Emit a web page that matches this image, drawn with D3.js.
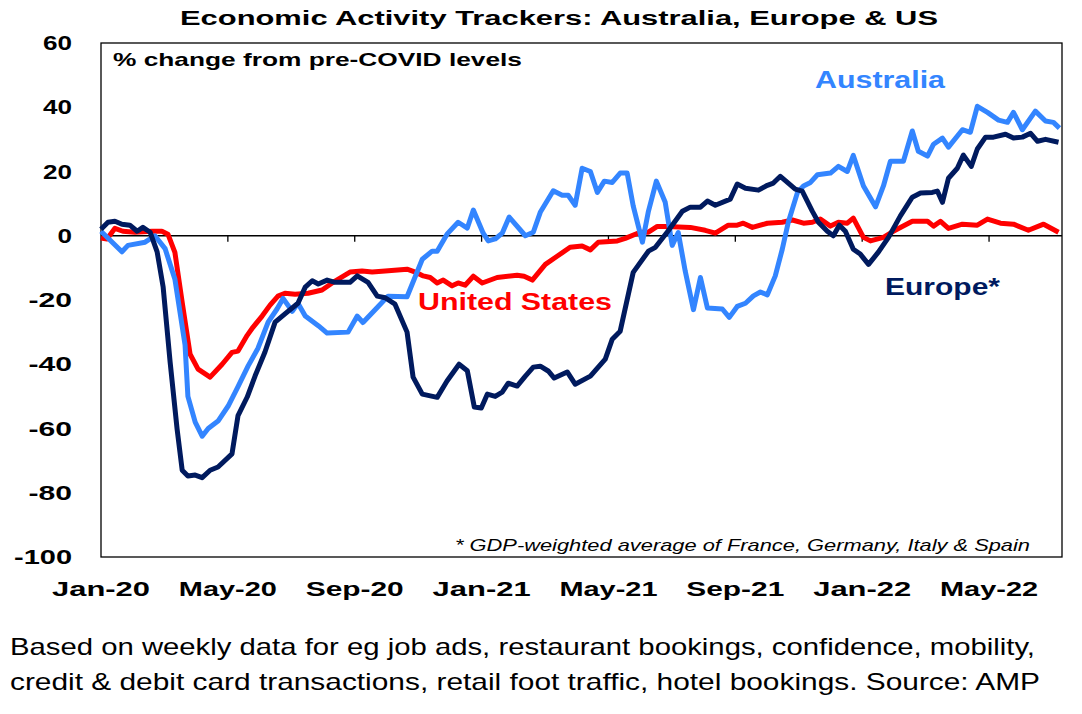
<!DOCTYPE html>
<html><head><meta charset="utf-8">
<script src="https://cdn.jsdelivr.net/npm/d3@7"></script>
<style>body{margin:0;background:#fff;font-family:Arial,"Liberation Sans",sans-serif}</style>
</head><body><svg id="c" width="1082" height="714"></svg>
<script>
// x in months since Jan 2020
const ausT=[0,0.66,0.85,1.39,1.70,2.02,2.33,2.65,2.74,2.97,3.19,3.38,3.69,4.01,4.32,4.64,4.95,5.27,5.55,5.74,6.03,6.21,6.44,6.85,7.13,7.79,8.08,8.26,8.74,9.05,9.65,10.13,10.44,10.60,10.91,11.26,11.55,11.74,12.05,12.21,12.43,12.65,12.87,13.38,13.63,13.85,14.26,14.54,14.73,14.95,15.17,15.43,15.65,15.87,16.12,16.37,16.59,16.78,17.07,17.26,17.51,17.79,18.01,18.20,18.42,18.68,18.90,19.12,19.59,19.81,20.06,20.32,20.57,20.79,21.01,21.26,21.48,21.67,21.96,22.15,22.37,22.59,23.00,23.25,23.53,23.72,24.04,24.42,24.67,24.89,25.30,25.58,25.77,26.06,26.25,26.53,26.72,27.16,27.41,27.63,27.95,28.30,28.58,28.77,29.05,29.46,29.78,30.03,30.22];
const ausV=[1.4,-5,-3,-2,0,-4,-13.5,-34,-50,-58,-62.4,-60,-57.7,-53,-47,-40.5,-35,-26.9,-22.8,-19.5,-23.5,-21,-25,-28,-30.3,-30,-25,-27,-22,-18.8,-19,-7.3,-4.8,-4.8,0.5,4.2,2.4,8,0.8,-1.6,-1,0.8,5.8,0,1.1,7.3,14,12.6,12.6,9.5,21,20,13.5,17,16.6,19.5,19.5,9.3,-2,7.6,17,10.4,-3,1,-11,-23,-13,-22.5,-22.8,-25.4,-22,-21,-18.7,-17.5,-18.4,-12.5,-4.2,4.2,13.5,15.5,16.6,19,19.5,21.6,20,25,15.5,9,15.5,23.2,23.2,32.6,26.3,24.8,28.5,30.4,27.6,33,32.2,40.3,38.4,36,35.3,38.4,33,38.8,35.7,35.3,33.5];
const eurT=[0,0.22,0.44,0.66,0.91,1.14,1.32,1.55,1.77,1.96,2.18,2.40,2.56,2.74,2.97,3.19,3.44,3.69,4.13,4.32,4.61,4.86,5.17,5.49,5.80,6.21,6.44,6.66,6.85,7.13,7.38,7.85,8.08,8.42,8.71,8.96,9.27,9.65,9.84,10.13,10.60,10.91,11.29,11.55,11.77,11.99,12.18,12.43,12.65,12.84,13.12,13.38,13.63,13.85,14.10,14.29,14.70,14.95,15.43,15.90,16.12,16.37,16.78,17.26,17.48,17.85,18.33,18.58,18.90,19.12,19.37,19.84,20.06,20.32,20.73,21.01,21.20,21.42,21.67,21.89,22.11,22.43,22.62,22.90,23.09,23.28,23.47,23.72,23.94,24.20,24.51,24.83,25.20,25.58,25.84,26.21,26.37,26.53,26.72,27.00,27.19,27.44,27.63,27.89,28.14,28.52,28.77,29.05,29.31,29.53,29.78,30.19];
const eurV=[2,4.2,4.5,3.6,3.3,1.4,2.6,1.1,-5,-16,-39.4,-60.2,-73,-74.8,-74.5,-75.3,-73,-72,-67.9,-56,-50.2,-43.6,-36.2,-26.9,-24.3,-21,-16,-14,-15,-13.8,-14.5,-14.5,-12.5,-14.5,-18.8,-19.3,-21.3,-30,-44,-49.3,-50.3,-45.2,-40,-42,-53.3,-53.6,-49.3,-50,-48.7,-45.9,-46.8,-43.7,-40.9,-40.6,-42.1,-44.3,-42.4,-46.2,-43.7,-38.4,-32.2,-29.7,-11.4,-4.8,-3.6,1.1,7.6,8.9,8.9,10.8,9.5,11.4,16.1,14.8,14.2,15.7,16.4,18.5,16.4,14.5,13.9,7.6,4.2,1.4,0,3.3,1.4,-4.2,-5.7,-8.9,-5.1,-0.5,6.1,12,13.3,13.5,13.9,10.4,17.9,21,25.1,21.6,27,30.7,30.7,31.6,30.4,30.7,31.9,29.4,30,29.1];
const usT=[0,0.19,0.44,0.69,1.07,1.61,1.92,2.11,2.33,2.56,2.81,3.06,3.44,3.82,4.13,4.32,4.61,4.79,5.08,5.33,5.58,5.80,6.12,6.53,6.97,7.38,7.85,8.23,8.55,8.96,9.65,9.91,10.16,10.38,10.60,10.79,11.07,11.26,11.48,11.74,12.02,12.49,13.12,13.34,13.60,14.01,14.38,14.79,15.17,15.43,15.68,16.28,16.53,17.00,17.26,17.54,17.85,18.58,19.05,19.37,19.78,20.06,20.25,20.54,21.01,21.48,21.80,22.15,22.43,22.68,23.00,23.25,23.53,23.72,24.04,24.26,24.67,24.98,25.58,26.06,26.25,26.47,26.72,27.16,27.63,27.95,28.36,28.77,29.24,29.72,30.19];
const usV=[-0.7,-1,2.3,1.4,1.1,1.4,1.4,0.5,-5.2,-20.7,-36.9,-41.5,-44,-40,-36.3,-35.9,-31,-28.5,-25,-21.6,-18.8,-17.9,-18.2,-17.9,-16.9,-14.1,-11.3,-11,-11.3,-11,-10.4,-11.3,-12.5,-13,-14.7,-13.8,-15.6,-14.7,-15.4,-12.6,-14.7,-13,-12.3,-12.6,-13.8,-8.9,-6.4,-3.6,-3.2,-4.4,-2,-1.6,-0.8,1.1,1.1,2.9,2.9,2.6,1.7,0.8,3.3,3.3,3.9,2.6,3.9,4.2,4.9,3.9,4.2,5.2,3,4.2,3.9,5.5,-0.5,-1.6,-0.5,1.4,4.5,4.5,3,4.5,2.3,3.6,3.3,5.2,3.9,3.6,1.7,3.6,1.1];
const xTickLabels=["Jan-20","May-20","Sep-20","Jan-21","May-21","Sep-21","Jan-22","May-22"];
const xTickPos=[0,4,8,12,16,20,24,28];
const yTicks=[60,40,20,0,-20,-40,-60,-80,-100];

const svg=d3.select("#c");
const L=101,R=1062,T=43,B=557;
const x=d3.scaleLinear().domain([0,30.3]).range([L,R]);
const y=d3.scaleLinear().domain([-100,60]).range([B,T]);

function txt(px,py,s,size,w,opts={}){
  const t=svg.append("text").attr("x",px).attr("y",py).attr("font-size",size).text(s)
   .attr("textLength",w).attr("lengthAdjust","spacingAndGlyphs");
  if(opts.bold) t.attr("font-weight","bold");
  if(opts.italic) t.attr("font-style","italic");
  if(opts.fill) t.attr("fill",opts.fill);
  if(opts.anchor) t.attr("text-anchor",opts.anchor);
  return t;
}

txt(180,25,"Economic Activity Trackers: Australia, Europe & US",20,758,{bold:true});

svg.append("rect").attr("x",L).attr("y",T).attr("width",R-L).attr("height",B-T).attr("fill","none").attr("stroke","#000").attr("stroke-width",1.3);
svg.append("line").attr("x1",L).attr("x2",R).attr("y1",y(0)).attr("y2",y(0)).attr("stroke","#000").attr("stroke-width",1.3);
xTickPos.slice(1).forEach(t=>svg.append("line").attr("x1",x(t)).attr("x2",x(t)).attr("y1",y(0)).attr("y2",y(0)+6).attr("stroke","#000").attr("stroke-width",1.3));
yTicks.forEach(v=>{
 const s=String(v);
 txt(72,y(v)+7,s,20,s.length*14.5+(v<0?-0:0),{bold:true,anchor:"end"});
});
xTickLabels.forEach((s,i)=>txt(x(xTickPos[i]),596,s,21,98,{bold:true,anchor:"middle"}));

const line=d3.line().x(d=>x(d[0])).y(d=>y(d[1]));
const series=[[usT,usV,"#ff0000"],[ausT,ausV,"#3385ff"],[eurT,eurV,"#001a5e"]];
series.forEach(([t,v,c])=>svg.append("path").datum(t.map((a,i)=>[a,v[i]])).attr("d",line).attr("fill","none").attr("stroke",c).attr("stroke-width",5).attr("stroke-linejoin","round"));

txt(113,66,"% change from pre-COVID levels",19,409,{bold:true});
txt(815,88,"Australia",23,130,{bold:true,fill:"#3385ff"});
txt(418,310,"United States",23,194,{bold:true,fill:"#ff0000"});
txt(885,295,"Europe*",23,115,{bold:true,fill:"#001a5e"});
txt(455,551,"* GDP-weighted average of France, Germany, Italy & Spain",17,575,{italic:true});
txt(10,655,"Based on weekly data for eg job ads, restaurant bookings, confidence, mobility,",24,1025);
txt(10,690,"credit & debit card transactions, retail foot traffic, hotel bookings. Source: AMP",24,1030);
</script></body></html>
